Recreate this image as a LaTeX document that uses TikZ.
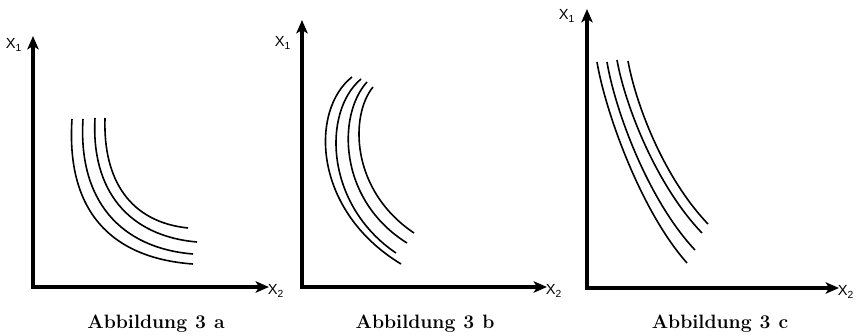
\documentclass[tikz,border=0pt]{standalone}
\usepackage{fontspec}
\newfontfamily\lblfont{Liberation Sans}
\usetikzlibrary{arrows.meta}
\tikzset{
  axis/.style={line width=3pt,-{Stealth[length=10pt,width=8.5pt,inset=2.5pt]}},
  curve/.style={line width=1.2pt},
  axlabel/.style={inner sep=0pt,font=\lblfont\fontsize{11}{12}\selectfont},
  caption/.style={inner sep=0pt,anchor=base,font=\fontsize{14.5}{16}\selectfont\bfseries}
}
\newcommand{\capt}[1]{Abbildung\hspace{6pt}3\hspace{6pt}#1}
\begin{document}
\begin{tikzpicture}[x=0.75pt,y=-0.75pt]
\useasboundingbox (0,0) rectangle (858,336);
% ---------- panel a ----------
\coordinate (Oa) at (33,287);
\coordinate (Ya) at (33,36);
\coordinate (Xa) at (269,287);
\draw[axis] (Oa) -- (Ya);
\draw[axis] ([xshift=-1.5pt]Oa) -- (Xa);
\node[axlabel] (ya) at (14,45) {X\textsubscript{1}};
\node[axlabel] (xa) at (276,291) {X\textsubscript{2}};
\node[caption] (ca) at (156,328) {\capt{a}};
\draw[curve] (72,119) .. controls (66,210) and (110,258) .. (193,264);
\draw[curve] (83,119) .. controls (78,200) and (120,248) .. (193,254);
\draw[curve] (95,118) .. controls (91,190) and (128,236) .. (197,242);
\draw[curve] (105,118) .. controls (103,180) and (130,222) .. (188,228);
% ---------- panel b ----------
\coordinate (Ob) at (302,287);
\coordinate (Yb) at (302,20);
\coordinate (Xb) at (547,287);
\draw[axis] (Ob) -- (Yb);
\draw[axis] ([xshift=-1.5pt]Ob) -- (Xb);
\node[axlabel] (yb) at (283,43) {X\textsubscript{1}};
\node[axlabel] (xb) at (554,291) {X\textsubscript{2}};
\node[caption] (cb) at (425,328) {\capt{b}};
\draw[curve] (352,77) .. controls (310,110) and (312,210) .. (401,264);
\draw[curve] (361,79) .. controls (322,112) and (325,205) .. (396,253);
\draw[curve] (367,82) .. controls (337,115) and (338,200) .. (407,243);
\draw[curve] (373,87) .. controls (350,115) and (350,190) .. (414,233);
% ---------- panel c ----------
\coordinate (Oc) at (587,288);
\coordinate (Yc) at (587,9);
\coordinate (Xc) at (839,288);
\draw[axis] (Oc) -- (Yc);
\draw[axis] ([xshift=-1.5pt]Oc) -- (Xc);
\node[axlabel] (yc) at (567,16) {X\textsubscript{1}};
\node[axlabel] (xc) at (846,292) {X\textsubscript{2}};
\node[caption] (cc) at (720,328) {\capt{c}};
\draw[curve] (597,62) .. controls (605,110) and (640,210) .. (687,263);
\draw[curve] (607,62) .. controls (615,110) and (648,200) .. (695,250);
\draw[curve] (617,60) .. controls (625,105) and (656,185) .. (702,233);
\draw[curve] (628,61) .. controls (636,105) and (664,178) .. (708,224);
\end{tikzpicture}
\end{document}
